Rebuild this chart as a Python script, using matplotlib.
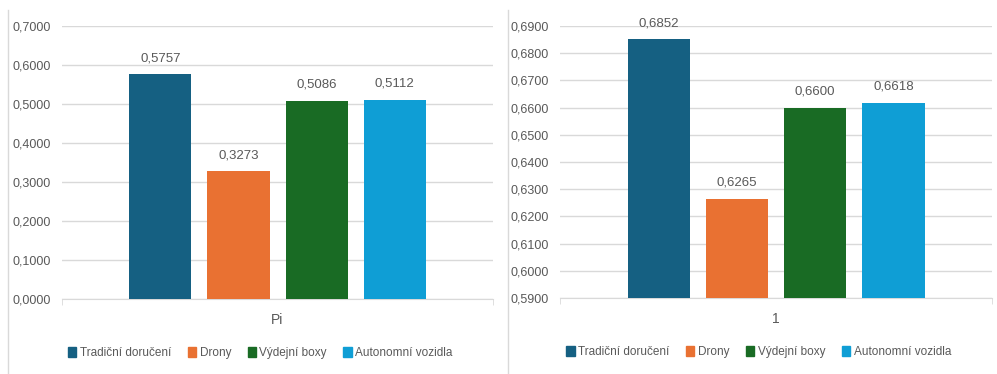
import matplotlib.pyplot as plt
from matplotlib.lines import Line2D
import numpy as np

# data
series = ["Tradiční doručení", "Drony", "Výdejní boxy", "Autonomní vozidla"]
colors = ["#156082", "#E97132", "#196B24", "#0F9ED5"]
left_vals = [0.5757, 0.3273, 0.5086, 0.5112]
right_vals = [0.6852, 0.6265, 0.6600, 0.6618]
left_cat = "Pi"
right_cat = "1"

GRAY = "#595959"
GRID = "#D9D9D9"
plt.rcParams['font.family'] = ['Liberation Sans', 'DejaVu Sans']


def fmt(v):
    return f"{v:.4f}".replace(".", ",")


def draw(ax, vals, cat, ylim, step):
    x = np.array([-1.5, -0.5, 0.5, 1.5])
    ax.bar(x, vals, width=0.795, color=colors, zorder=3)
    for xi, v in zip(x, vals):
        ax.annotate(fmt(v), (xi, v), xytext=(0, 7), textcoords="offset points",
                    ha="center", va="bottom", fontsize=9.5, color=GRAY)
    ax.set_xlim(-2.76, 2.76)
    ax.set_ylim(*ylim)
    ticks = np.arange(ylim[0], ylim[1] + step / 2, step)
    ax.set_yticks(ticks)
    ax.set_yticklabels([fmt(t) for t in ticks], fontsize=9, color=GRAY)
    ax.set_xticks([0])
    ax.set_xticklabels([cat], fontsize=10, color=GRAY)
    ax.tick_params(axis="x", length=0, pad=10)
    ax.set_xticks([-2.76, 2.76], minor=True)
    ax.tick_params(axis="x", which="minor", length=4, color=GRID, direction="out")
    ax.tick_params(axis="y", length=0, pad=8)
    ax.grid(axis="y", color=GRID, linewidth=1, zorder=0)
    for s in ["top", "right", "left"]:
        ax.spines[s].set_visible(False)
    ax.spines["bottom"].set_color(GRID)
    handles = [plt.Rectangle((0, 0), 1, 1, color=c) for c in colors]
    ax.legend(handles, series, ncol=4, loc="center", bbox_to_anchor=(0.46, -0.198),
              frameon=False, handlelength=0.7, handleheight=0.9, handletextpad=0.3,
              columnspacing=1.4, fontsize=8.5, labelcolor=GRAY)


fig = plt.figure(figsize=(9.97, 3.74), dpi=100)
ax1 = fig.add_axes([0.0622, 0.2005, 0.4323, 0.730])
ax2 = fig.add_axes([0.5617, 0.2032, 0.4333, 0.7273])
draw(ax1, left_vals, left_cat, (0.0, 0.7), 0.1)
draw(ax2, right_vals, right_cat, (0.59, 0.69), 0.01)

# panel borders
fig.add_artist(Line2D([8 / 997, 8 / 997], [0, 1 - 10 / 374], color=GRID, linewidth=1))
fig.add_artist(Line2D([508 / 997, 508 / 997], [0, 1 - 10 / 374], color=GRID, linewidth=1))

fig.savefig("out.png", dpi=100)
